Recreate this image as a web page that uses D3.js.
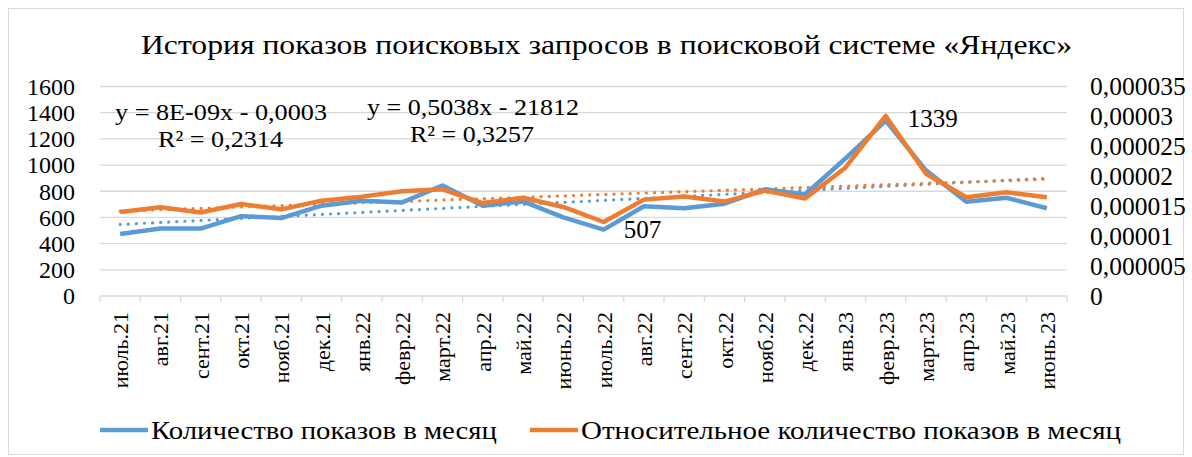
<!DOCTYPE html>
<html>
<head>
<meta charset="utf-8">
<script src="https://cdnjs.cloudflare.com/ajax/libs/d3/7.8.5/d3.min.js"></script>
<style>
  body { margin: 0; background: #fff; }
  text { font-family: "Liberation Serif", "Times New Roman", serif; fill: #000; }
</style>
</head>
<body>
<svg id="chart" width="1192" height="457"></svg>
<script>
//============ data ============//
var months = ['июль.21','авг.21','сент.21','окт.21','нояб.21','дек.21','янв.22','февр.22',
  'март.22','апр.22','май.22','июнь.22','июль.22','авг.22','сент.22','окт.22','нояб.22',
  'дек.22','янв.23','февр.23','март.23','апр.23','май.23','июнь.23'];

// количество показов (левая ось)
var shows = [474, 515, 515, 610, 595, 690, 728, 715, 844, 690, 722, 600,
  507, 685, 670, 705, 815, 775, 1050, 1339, 960, 720, 750, 670];

// относительное количество показов (правая ось)
var relShows = [0.00001402, 0.00001481, 0.00001396, 0.00001538, 0.00001448, 0.00001593,
  0.00001660, 0.00001750, 0.00001783, 0.00001553, 0.00001641, 0.00001488,
  0.00001236, 0.00001610, 0.00001663, 0.00001577, 0.00001761, 0.00001630,
  0.00002144, 0.00003008, 0.00002041, 0.00001649, 0.00001733, 0.00001649];

var leftTicks = [0, 200, 400, 600, 800, 1000, 1200, 1400, 1600];
var rightTicks = [0, 0.000005, 0.00001, 0.000015, 0.00002, 0.000025, 0.00003, 0.000035];
var rightTickLabels = ['0','0,000005','0,00001','0,000015','0,00002','0,000025','0,00003','0,000035'];

var seriesNames = ['Количество показов в месяц', 'Относительное количество показов в месяц'];
var eqShows = ['y = 0,5038x - 21812', 'R² = 0,3257'];
var eqRel = ['y = 8E-09x - 0,0003', 'R² = 0,2314'];
var titleText = 'История показов поисковых запросов в поисковой системе «Яндекс»';

var blue = '#5b9bd5', orange = '#ed7d31';

//============ layout ============//
var margin = {top: 86.5, left: 100, right: 125, bottom: 161};
var W = 1192, H = 457;
var plotW = W - margin.left - margin.right,
    plotH = H - margin.top - margin.bottom;

var svg = d3.select('#chart');

// chart border
svg.append('rect')
  .attr('x', 8.5).attr('y', 8.5)
  .attr('width', 1175).attr('height', 446)
  .attr('fill', 'none').attr('stroke', '#d9d9d9');

var g = svg.append('g')
  .attr('transform', 'translate(' + margin.left + ',' + margin.top + ')');

var x = d3.scaleBand().domain(months).range([0, plotW]);
var yL = d3.scaleLinear().domain([0, 1600]).range([plotH, 0]);
var yR = d3.scaleLinear().domain([0, 0.000035]).range([plotH, 0]);
var cx = function(i) { return x(months[i]) + x.bandwidth() / 2; };

// gridlines
g.selectAll('.grid').data(leftTicks.slice(1))
  .enter().append('line')
  .attr('x1', 0).attr('x2', plotW)
  .attr('y1', function(d) { return yL(d); })
  .attr('y2', function(d) { return yL(d); })
  .attr('stroke', '#d9d9d9').attr('stroke-width', 1.3);

// x axis
g.append('line')
  .attr('x1', 0).attr('x2', plotW)
  .attr('y1', plotH).attr('y2', plotH)
  .attr('stroke', '#d9d9d9').attr('stroke-width', 1.3);
g.selectAll('.xtick').data(d3.range(months.length + 1))
  .enter().append('line')
  .attr('x1', function(i) { return i * x.bandwidth(); })
  .attr('x2', function(i) { return i * x.bandwidth(); })
  .attr('y1', plotH).attr('y2', plotH + 6)
  .attr('stroke', '#d9d9d9').attr('stroke-width', 1.3);

g.selectAll('.xlab').data(months)
  .enter().append('text')
  .attr('transform', function(d, i) {
    return 'translate(' + (cx(i) + 8) + ',' + (plotH + 16) + ') rotate(-90)';
  })
  .attr('text-anchor', 'end')
  .style('font-size', '22px')
  .text(function(d) { return d; });

// left axis labels
g.selectAll('.ylab').data(leftTicks)
  .enter().append('text')
  .attr('x', -25).attr('y', function(d) { return yL(d); })
  .attr('dy', '0.35em')
  .attr('text-anchor', 'end')
  .style('font-size', '24px')
  .text(function(d) { return d; });

// right axis labels
g.selectAll('.yrlab').data(rightTicks)
  .enter().append('text')
  .attr('x', plotW + 23).attr('y', function(d) { return yR(d); })
  .attr('dy', '0.35em')
  .style('font-size', '25.5px')
  .text(function(d, i) { return rightTickLabels[i]; });

// linear trend (least squares on month index)
function trend(vals) {
  var n = vals.length, idx = d3.range(n);
  var mx = d3.mean(idx), my = d3.mean(vals);
  var sxy = d3.sum(idx, function(i) { return (i - mx) * (vals[i] - my); });
  var sxx = d3.sum(idx, function(i) { return (i - mx) * (i - mx); });
  var b = sxy / sxx, a = my - b * mx;
  return [[0, a], [n - 1, a + b * (n - 1)]];
}

var lineL = d3.line().x(function(d, i) { return cx(i); }).y(function(d) { return yL(d); });
var lineR = d3.line().x(function(d, i) { return cx(i); }).y(function(d) { return yR(d); });
var trendLine = function(scale) {
  return d3.line().x(function(p) { return cx(p[0]); }).y(function(p) { return scale(p[1]); });
};

// trendlines (dotted)
g.append('path')
  .attr('d', trendLine(yL)(trend(shows)))
  .attr('fill', 'none').attr('stroke', blue)
  .attr('stroke-width', 3.2).attr('stroke-linecap', 'round')
  .attr('stroke-dasharray', '0.1 8');
g.append('path')
  .attr('d', trendLine(yR)(trend(relShows)))
  .attr('fill', 'none').attr('stroke', orange)
  .attr('stroke-width', 3.2).attr('stroke-linecap', 'round')
  .attr('stroke-dasharray', '0.1 8');

// series lines
g.append('path')
  .attr('d', lineL(shows))
  .attr('fill', 'none').attr('stroke', blue)
  .attr('stroke-width', 4.5).attr('stroke-linejoin', 'round');
g.append('path')
  .attr('d', lineR(relShows))
  .attr('fill', 'none').attr('stroke', orange)
  .attr('stroke-width', 4.5).attr('stroke-linejoin', 'round');

// data labels
g.append('text')
  .attr('x', cx(12) + 20).attr('y', yL(shows[12]) + 8)
  .style('font-size', '25px')
  .text(shows[12]);
g.append('text')
  .attr('x', cx(19) + 22).attr('y', yL(shows[19]) + 6)
  .style('font-size', '25px')
  .text(shows[19]);

// trend equations (stretched to the widths in the source)
function label(txt, cxPos, y, len) {
  g.append('text')
    .attr('x', cxPos).attr('y', y)
    .attr('text-anchor', 'middle')
    .attr('textLength', len).attr('lengthAdjust', 'spacingAndGlyphs')
    .style('font-size', '23px')
    .text(txt);
}
label(eqRel[0], 121, 33, 212);
label(eqRel[1], 120.5, 60, 125);
label(eqShows[0], 373, 28, 212);
label(eqShows[1], 372, 55, 124);

// title
svg.append('text')
  .attr('x', 606.5).attr('y', 54)
  .attr('text-anchor', 'middle')
  .attr('textLength', 931).attr('lengthAdjust', 'spacingAndGlyphs')
  .style('font-size', '28px')
  .text(titleText);

// legend
var legend = svg.append('g').attr('transform', 'translate(0,430)');
var legX = [100, 530];
var legLen = [346, 540];
var legColors = [blue, orange];
seriesNames.forEach(function(name, i) {
  legend.append('line')
    .attr('x1', legX[i]).attr('x2', legX[i] + 48)
    .attr('y1', 0).attr('y2', 0)
    .attr('stroke', legColors[i]).attr('stroke-width', 4.5);
  legend.append('text')
    .attr('x', legX[i] + 51).attr('y', 9)
    .attr('textLength', legLen[i]).attr('lengthAdjust', 'spacingAndGlyphs')
    .style('font-size', '26px')
    .text(name);
});
</script>
</body>
</html>
